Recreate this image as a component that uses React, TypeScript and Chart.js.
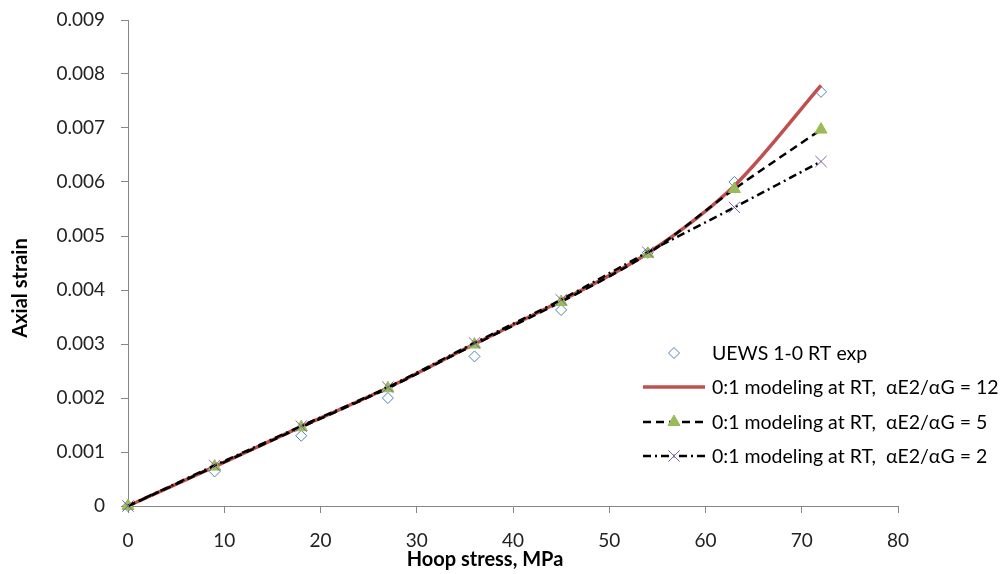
import React, { useEffect, useRef } from 'react';
import { Chart, registerables } from 'chart.js';
import { drawPoint } from 'chart.js/helpers';

Chart.register(...registerables);

// ---- Data ----
const hoopStress = [0, 9, 18, 27, 36, 45, 54, 63, 72];
const expStrain = [0, 0.00064, 0.0013, 0.002, 0.00277, 0.00363, 0.00469, 0.006, 0.00767];
const model12 = [0, 0.00073, 0.00147, 0.00219, 0.003, 0.0038, 0.00468, 0.00593, 0.00779];
const model5 = [0, 0.00073, 0.00146, 0.00218, 0.00299, 0.00378, 0.00467, 0.00587, 0.00697];
const model2 = [0, 0.00075, 0.00148, 0.0022, 0.00302, 0.00382, 0.0047, 0.00553, 0.00638];

const seriesLabels = [
  'UEWS 1-0 RT exp',
  '0:1 modeling at RT,  \u03b1E2/\u03b1G = 12',
  '0:1 modeling at RT,  \u03b1E2/\u03b1G = 5',
  '0:1 modeling at RT,  \u03b1E2/\u03b1G = 2',
];
const xTitle = 'Hoop stress, MPa';
const yTitle = 'Axial strain';
const xMin = 0, xMax = 80, xStep = 10;
const yMin = 0, yMax = 0.009, yStep = 0.001;

const FONT = 'Lato, "Open Sans", sans-serif';
const BLUE = '#4F81BD';
const RED = '#C0504D';
const GREEN = '#9BBB59';
const PURPLE = '#8064A2';
const AXIS = '#868686';

const toPts = (ys: number[]) => hoopStress.map((x, i) => ({ x, y: ys[i] }));

const overlayPlugin = {
  id: 'overlay',
  afterDraw(chart: any) {
    const ctx: CanvasRenderingContext2D = chart.ctx;
    const ca = chart.chartArea;
    ctx.save();
    ctx.fillStyle = '#000';
    // y title
    ctx.font = `bold 20px ${FONT}`;
    ctx.textAlign = 'center';
    ctx.textBaseline = 'middle';
    ctx.save();
    ctx.translate(21, (ca.top + ca.bottom) / 2 + 25);
    ctx.rotate(-Math.PI / 2);
    ctx.fillText(yTitle, 0, 0);
    ctx.restore();
    // x title
    ctx.fillText(xTitle, (ca.left + ca.right) / 2 - 28, 560);

    // legend
    const rows = [353, 387, 422, 456];
    const x0 = 643, x1 = 705, xm = 674, xt = 712;
    const lineSpec: any[] = [
      null,
      { color: RED, width: 3.5, dash: [] },
      { color: '#000', width: 2.5, dash: [8, 5] },
      { color: '#000', width: 2.5, dash: [8, 4, 2, 4] },
    ];
    const markers: any[] = [
      { style: 'rectRot', r: 5.5, stroke: BLUE, fill: 'rgba(0,0,0,0)', bw: 1 },
      null,
      { style: 'triangle', r: 7, stroke: GREEN, fill: GREEN, bw: 1 },
      { style: 'crossRot', r: 8, stroke: PURPLE, fill: PURPLE, bw: 1 },
    ];
    rows.forEach((y, i) => {
      const ls = lineSpec[i];
      if (ls) {
        ctx.save();
        ctx.strokeStyle = ls.color;
        ctx.lineWidth = ls.width;
        ctx.setLineDash(ls.dash);
        ctx.beginPath();
        ctx.moveTo(x0, y);
        ctx.lineTo(x1, y);
        ctx.stroke();
        ctx.restore();
      }
      const m = markers[i];
      if (m) {
        ctx.save();
        ctx.strokeStyle = m.stroke;
        ctx.fillStyle = m.fill;
        ctx.lineWidth = m.bw;
        drawPoint(ctx, { pointStyle: m.style, radius: m.r, rotation: 0, borderWidth: m.bw } as any, xm, y);
        ctx.restore();
      }
      ctx.font = `19.5px ${FONT}`;
      ctx.textAlign = 'left';
      ctx.textBaseline = 'middle';
      ctx.fillStyle = '#000';
      ctx.fillText(seriesLabels[i], xt, y + 1);
    });
    ctx.restore();
  },
};

export default function App() {
  const ref = useRef<HTMLCanvasElement>(null);
  useEffect(() => {
    if (!ref.current) return;
    const tickFont = { family: FONT, size: 19 };
    const chart = new Chart(ref.current, {
      type: 'scatter',
      data: {
        datasets: [
          {
            label: seriesLabels[0],
            data: toPts(expStrain),
            showLine: false,
            pointStyle: 'rectRot',
            pointRadius: 5.5,
            pointBorderWidth: 1,
            borderColor: BLUE,
            backgroundColor: 'rgba(0,0,0,0)',
            clip: false,
            order: 4,
          },
          {
            label: seriesLabels[1],
            data: toPts(model12),
            showLine: true,
            borderColor: RED,
            borderWidth: 3.5,
            pointRadius: 0,
            tension: 0.3,
            clip: false,
            order: 3,
          },
          {
            label: seriesLabels[2],
            data: toPts(model5),
            showLine: true,
            borderColor: '#000',
            borderWidth: 2.5,
            borderDash: [8, 5],
            tension: 0.3,
            pointStyle: 'triangle',
            pointRadius: 7,
            pointBackgroundColor: GREEN,
            pointBorderColor: GREEN,
            pointBorderWidth: 1,
            clip: false,
            order: 2,
          },
          {
            label: seriesLabels[3],
            data: toPts(model2),
            showLine: true,
            borderColor: '#000',
            borderWidth: 2.5,
            borderDash: [8, 4, 2, 4],
            tension: 0.3,
            pointStyle: 'crossRot',
            pointRadius: 8,
            pointBackgroundColor: PURPLE,
            pointBorderColor: PURPLE,
            pointBorderWidth: 1,
            clip: false,
            order: 1,
          },
        ] as any,
      },
      options: {
        animation: false,
        responsive: false,
        maintainAspectRatio: false,
        layout: { padding: { top: 20, right: 102, left: 0, bottom: 0 } },
        plugins: { legend: { display: false }, tooltip: { enabled: false } },
        scales: {
          x: {
            type: 'linear',
            min: xMin,
            max: xMax,
            ticks: { stepSize: xStep, font: tickFont, color: '#222', padding: 16 },
            grid: { drawOnChartArea: false, drawTicks: true, tickLength: 7, color: AXIS },
            border: { color: AXIS, width: 1 },
            afterFit: (s: any) => { s.height = 68; s.paddingLeft = 0; s.paddingRight = 0; },
          },
          y: {
            type: 'linear',
            min: yMin,
            max: yMax,
            ticks: {
              stepSize: yStep,
              font: tickFont,
              color: '#222',
              padding: 16,
              callback: (v: any) => (Math.abs(v) < 1e-12 ? '0' : Number(v).toFixed(3)),
            },
            grid: { drawOnChartArea: false, drawTicks: true, tickLength: 7, color: AXIS },
            border: { color: AXIS, width: 1 },
            afterFit: (s: any) => { s.width = 128; s.paddingTop = 0; s.paddingBottom = 0; },
          },
        },
      } as any,
      plugins: [overlayPlugin],
    });
    return () => chart.destroy();
  }, []);
  return (
    <div style={{ position: 'absolute', left: 0, top: 0, width: 1000, height: 574, background: '#fff' }}>
      <canvas ref={ref} width={1000} height={574} style={{ display: 'block' }} />
    </div>
  );
}
